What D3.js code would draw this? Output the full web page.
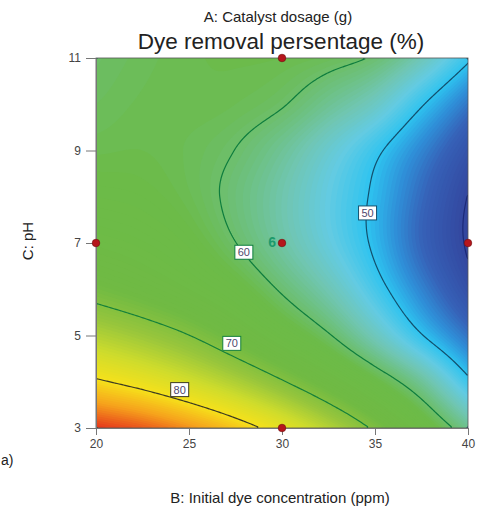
<!DOCTYPE html>
<html>
<head>
<meta charset="utf-8">
<script src="https://cdn.jsdelivr.net/npm/d3@7"></script>
<style>
  body { margin: 0; background: #fff; }
  text { font-family: "Liberation Sans", Arial, sans-serif; }
</style>
</head>
<body>
<svg width="483" height="512"></svg>
<script>
// response: rows are pH (top to bottom), columns are dye concentration
const dyeConc = [20, 22.5, 25, 27.5, 30, 32.5, 35, 37.5, 40];
const pHLevels = [11, 10, 9, 8, 7, 6, 5, 4, 3];
const removal = [
  [60.3, 61.0, 61.5, 61.7, 61.6, 61.0, 59.6, 55.8, 50.6],
  [60.8, 61.3, 61.5, 61.2, 60.2, 57.8, 55.0, 50.3, 45.4],
  [61.5, 61.6, 61.1, 59.95, 57.6, 54.3, 50.7, 46.4, 41.8],
  [62.8, 62.4, 61.3, 59.2, 56.4, 53.0, 49.4, 44.6, 39.9],
  [65.0, 64.1, 62.6, 60.05, 56.9, 53.4, 49.4, 44.2, 39.6],
  [68.5, 67.0, 65.2, 62.9, 59.6, 56.0, 51.4, 46.3, 41.3],
  [74.0, 72.2, 70.05, 67.2, 63.9, 60.3, 55.5, 50.2, 45.2],
  [80.5, 78.7, 76.4, 73.6, 70.3, 66.6, 62.4, 57.5, 50.8],
  [88.5, 87.0, 84.7, 81.8, 78.3, 74.1, 69.4, 64.0, 58.0]
];

const xTicks = [20, 25, 30, 35, 40];
const yTicks = [3, 5, 7, 9, 11];
const contourLevels = [40, 50, 60, 70, 80];

// where the level labels sit (data units)
const labelLevels = [50, 60, 70, 80];
const labelConc = [34.6, 27.95, 27.3, 24.5];
const labelPH = [7.65, 6.8, 4.83, 3.83];

// design points
const designConc = [20, 30, 30, 40, 30];
const designPH = [7, 11, 3, 7, 7];
const centerRuns = '6';

const colorValues = [39, 44, 47, 50, 53, 56, 59, 62, 68, 72, 76, 80, 84, 88.5];
const colorHex = ['#33429a', '#3661b7', '#2f8fd8', '#2ec3f0', '#63cbe2', '#70c6b4', '#6dc07c',
                  '#6cbb48', '#70ba43', '#98c63c', '#cfdc2c', '#f6e11b', '#f6a21c', '#e5341c'];
const lineColors = { 40: '#1c2a78', 50: '#13506e', 60: '#0e7d3e', 70: '#15803a', 80: '#3b3a22' };

const svg = d3.select('svg');
const plotLeft = 96, plotTop = 58, W = 372, H = 370;

const x = d3.scaleLinear().domain([20, 40]).range([plotLeft, plotLeft + W]);
const y = d3.scaleLinear().domain([3, 11]).range([plotTop + H, plotTop]);
const color = d3.scaleLinear().domain(colorValues).range(colorHex).clamp(true);

// smooth the read grid for drawing (catmull-rom between read values)
const gx = d3.scaleLinear().domain([dyeConc[0], dyeConc[dyeConc.length - 1]]).range([0, dyeConc.length - 1]);
const gy = d3.scaleLinear().domain([pHLevels[0], pHLevels[pHLevels.length - 1]]).range([0, pHLevels.length - 1]);

function cell(i, j) {
  const n = dyeConc.length, m = pHLevels.length;
  if (i < 0) return 2 * cell(0, j) - cell(1, j);
  if (i > n - 1) return 2 * cell(n - 1, j) - cell(n - 2, j);
  if (j < 0) return 2 * cell(i, 0) - cell(i, 1);
  if (j > m - 1) return 2 * cell(i, m - 1) - cell(i, m - 2);
  return removal[j][i];
}
function cr(p0, p1, p2, p3, t) {
  return p1 + 0.5 * t * (p2 - p0 + t * (2 * p0 - 5 * p1 + 4 * p2 - p3 + t * (3 * (p1 - p2) + p3 - p0)));
}
function sample(c, p) {
  const fx = gx(c), fy = gy(p);
  const i = Math.min(Math.floor(fx), dyeConc.length - 2), j = Math.min(Math.floor(fy), pHLevels.length - 2);
  const tx = fx - i, ty = fy - j;
  const rows = [-1, 0, 1, 2].map(d => cr(cell(i - 1, j + d), cell(i, j + d), cell(i + 1, j + d), cell(i + 2, j + d), tx));
  return cr(rows[0], rows[1], rows[2], rows[3], ty);
}

const nx = 186, ny = 185;
const values = new Array(nx * ny);
for (let j = 0; j < ny; j++) {
  for (let i = 0; i < nx; i++) {
    const c = x.invert(plotLeft + (i + 0.5) * W / nx);
    const p = y.invert(plotTop + (j + 0.5) * H / ny);
    values[j * nx + i] = sample(c, p);
  }
}

const toScreen = d3.geoTransform({
  point(px, py) { this.stream.point(plotLeft + px * W / nx, plotTop + py * H / ny); }
});
const path = d3.geoPath(toScreen);

svg.append('clipPath').attr('id', 'plot')
  .append('rect').attr('x', plotLeft).attr('y', plotTop).attr('width', W).attr('height', H);

const plot = svg.append('g').attr('clip-path', 'url(#plot)');

// colour bands
const step = 0.4;
const bands = d3.range(36, 92, step);
plot.append('rect').attr('x', plotLeft).attr('y', plotTop).attr('width', W).attr('height', H)
  .attr('fill', color(d3.min(values)));
plot.selectAll('path.band')
  .data(d3.contours().size([nx, ny]).thresholds(bands)(values))
  .join('path')
  .attr('class', 'band')
  .attr('d', path)
  .attr('fill', d => color(d.value + step / 2));

// contour lines without the parts running along the frame
function openLines(contour) {
  const onEdge = (a, b) =>
    (a[0] <= 0.01 && b[0] <= 0.01) || (a[0] >= nx - 0.01 && b[0] >= nx - 0.01) ||
    (a[1] <= 0.01 && b[1] <= 0.01) || (a[1] >= ny - 0.01 && b[1] >= ny - 0.01);
  const out = [];
  contour.coordinates.forEach(poly => poly.forEach(ring => {
    let cur = [];
    for (let k = 1; k < ring.length; k++) {
      const a = ring[k - 1], b = ring[k];
      if (onEdge(a, b)) {
        if (cur.length > 1) out.push(cur);
        cur = [];
      } else {
        if (!cur.length) cur.push(a);
        cur.push(b);
      }
    }
    if (cur.length > 1) out.push(cur);
  }));
  return out.map(pts => ({ value: contour.value, pts }));
}

const lineGen = d3.line()
  .x(d => plotLeft + d[0] * W / nx)
  .y(d => plotTop + d[1] * H / ny);

const lines = d3.contours().size([nx, ny]).thresholds(contourLevels)(values).flatMap(openLines);
plot.selectAll('path.level')
  .data(lines)
  .join('path')
  .attr('class', 'level')
  .attr('d', d => lineGen(d.pts))
  .attr('fill', 'none')
  .attr('stroke', d => lineColors[d.value])
  .attr('stroke-width', 1.2);

// frame
svg.append('rect').attr('x', plotLeft).attr('y', plotTop).attr('width', W).attr('height', H)
  .attr('fill', 'none').attr('stroke', '#555').attr('stroke-width', 0.8);

// level labels
const labs = svg.selectAll('g.lab')
  .data(labelLevels)
  .join('g')
  .attr('class', 'lab')
  .attr('transform', (d, i) => `translate(${x(labelConc[i])},${y(labelPH[i])})`);
labs.append('rect').attr('x', -9).attr('y', -7).attr('width', 18).attr('height', 14)
  .attr('fill', '#fff').attr('stroke', d => lineColors[d]).attr('stroke-width', 1);
labs.append('text').attr('text-anchor', 'middle').attr('y', 4)
  .attr('font-size', 11).attr('fill', '#4f4a6e').text(d => d);

// axes
const xAxis = svg.append('g').attr('transform', `translate(0,${plotTop + H})`)
  .call(d3.axisBottom(x).tickValues(xTicks).tickSize(7).tickSizeOuter(0).tickPadding(4));
const yAxis = svg.append('g').attr('transform', `translate(${plotLeft},0)`)
  .call(d3.axisLeft(y).tickValues(yTicks).tickSize(10).tickSizeOuter(0).tickPadding(5));
[xAxis, yAxis].forEach(a => {
  a.select('.domain').attr('stroke', '#777');
  a.selectAll('line').attr('stroke', '#777');
  a.selectAll('text').attr('font-size', 12).attr('fill', '#444')
    .attr('font-family', '"Liberation Sans", Arial, sans-serif');
});

// design points
svg.selectAll('circle.pt')
  .data(designConc)
  .join('circle')
  .attr('class', 'pt')
  .attr('cx', d => x(d))
  .attr('cy', (d, i) => y(designPH[i]))
  .attr('r', 3.8)
  .attr('fill', '#b5161c')
  .attr('stroke', '#6e0c0c')
  .attr('stroke-width', 0.6);

svg.append('text')
  .attr('x', x(30) - 6).attr('y', y(7) + 4)
  .attr('text-anchor', 'end').attr('font-size', 14).attr('font-weight', 'bold')
  .attr('fill', '#1d9a6c').text(centerRuns);

// titles
svg.append('text').attr('x', 278).attr('y', 22).attr('text-anchor', 'middle')
  .attr('font-size', 15).attr('fill', '#222').text('A: Catalyst dosage (g)');
svg.append('text').attr('x', 281).attr('y', 49).attr('text-anchor', 'middle')
  .attr('font-size', 22.5).attr('fill', '#222').text('Dye removal persentage (%)');
svg.append('text').attr('x', 280).attr('y', 503).attr('text-anchor', 'middle')
  .attr('font-size', 15).attr('fill', '#222').text('B: Initial dye concentration (ppm)');
svg.append('text').attr('transform', 'translate(33,241) rotate(-90)').attr('text-anchor', 'middle')
  .attr('font-size', 15).attr('fill', '#222').text('C: pH');
svg.append('text').attr('x', 1).attr('y', 465).attr('text-anchor', 'start')
  .attr('font-size', 14).attr('fill', '#222').text('a)');
</script>
</body>
</html>
